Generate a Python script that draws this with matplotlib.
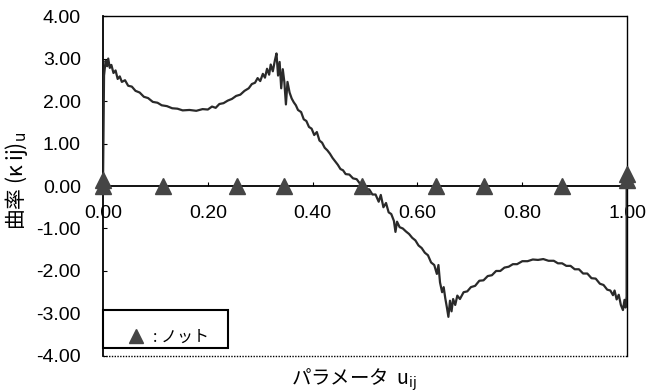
import matplotlib
matplotlib.use("Agg")
import matplotlib.pyplot as plt
from matplotlib.patches import Rectangle

plt.rcParams['font.family'] = ['Liberation Sans', 'Noto Sans CJK JP']
plt.rcParams['axes.unicode_minus'] = False

# curvature along the parameter (jagged as printed)
u_vals = [0.000, 0.002, 0.005, 0.008, 0.010, 0.013, 0.016, 0.020, 0.024, 0.028,
          0.032, 0.036, 0.042, 0.048, 0.055, 0.062, 0.070, 0.078, 0.086, 0.095,
          0.104, 0.112, 0.122, 0.132, 0.142, 0.152, 0.165, 0.178, 0.190, 0.200,
          0.208, 0.215, 0.222, 0.230, 0.238, 0.246, 0.254, 0.262, 0.270, 0.278,
          0.284, 0.290, 0.295, 0.300, 0.305, 0.309, 0.313, 0.317, 0.320, 0.324,
          0.328, 0.331, 0.334, 0.337, 0.340, 0.343, 0.346, 0.349, 0.352, 0.356,
          0.360, 0.364, 0.368, 0.372, 0.378, 0.383, 0.388, 0.393, 0.398, 0.403,
          0.408, 0.413, 0.418, 0.423, 0.428, 0.433, 0.438, 0.443, 0.448, 0.453,
          0.458, 0.463, 0.470, 0.477, 0.484, 0.490, 0.496, 0.502, 0.508, 0.514,
          0.520, 0.526, 0.530, 0.535, 0.540, 0.545, 0.550, 0.555, 0.558, 0.561,
          0.566, 0.572, 0.578, 0.584, 0.590, 0.596, 0.602, 0.608, 0.614, 0.620,
          0.626, 0.632, 0.637, 0.640, 0.643, 0.647, 0.650, 0.653, 0.656, 0.659,
          0.662, 0.665, 0.668, 0.672, 0.676, 0.681, 0.688, 0.695, 0.702, 0.710,
          0.718, 0.726, 0.734, 0.742, 0.750, 0.758, 0.766, 0.774, 0.782, 0.790,
          0.800, 0.810, 0.820, 0.830, 0.840, 0.850, 0.860, 0.868, 0.876, 0.884,
          0.892, 0.900, 0.908, 0.916, 0.924, 0.932, 0.940, 0.948, 0.955, 0.962,
          0.968, 0.973, 0.976, 0.980, 0.984, 0.988, 0.992, 0.995, 0.997, 0.999,
          0.999]
kappa = [0.00, 2.60, 2.95, 2.82, 3.00, 2.78, 2.85, 2.66, 2.72, 2.52,
         2.58, 2.45, 2.49, 2.36, 2.34, 2.24, 2.20, 2.10, 2.07, 1.98,
         1.96, 1.90, 1.88, 1.83, 1.82, 1.78, 1.79, 1.77, 1.81, 1.80,
         1.87, 1.84, 1.93, 1.95, 2.01, 2.05, 2.12, 2.15, 2.24, 2.30,
         2.40, 2.43, 2.54, 2.47, 2.64, 2.55, 2.76, 2.62, 2.86, 2.70,
         2.96, 3.12, 2.60, 2.92, 2.30, 2.75, 2.45, 1.92, 2.45, 2.20,
         2.06, 1.97, 1.90, 1.79, 1.74, 1.57, 1.53, 1.39, 1.35, 1.20,
         1.27, 1.07, 1.02, 0.90, 0.84, 0.76, 0.66, 0.58, 0.50, 0.40,
         0.37, 0.28, 0.27, 0.18, 0.16, 0.06, 0.06, -0.07, -0.08, -0.20,
         -0.20, -0.37, -0.21, -0.50, -0.40, -0.62, -0.66, -0.82, -1.08, -0.84,
         -0.97, -1.00, -1.07, -1.13, -1.22, -1.28, -1.40, -1.46, -1.57, -1.63,
         -1.80, -1.86, -2.07, -1.86, -2.27, -2.50, -2.38, -2.64, -2.85, -3.08,
         -2.70, -2.95, -2.66, -2.80, -2.58, -2.66, -2.50, -2.48, -2.38, -2.35,
         -2.23, -2.22, -2.12, -2.10, -2.00, -2.00, -1.92, -1.90, -1.84, -1.84,
         -1.77, -1.77, -1.73, -1.74, -1.72, -1.76, -1.76, -1.82, -1.82, -1.88,
         -1.88, -1.96, -1.96, -2.06, -2.06, -2.17, -2.18, -2.30, -2.33, -2.44,
         -2.46, -2.57, -2.46, -2.67, -2.56, -2.80, -2.92, -2.68, -2.86, -2.60,
         0.00]

# knot positions (end knots appear doubled in the print)
knot_u = [0.0, 0.0, 0.1145, 0.2557, 0.3454, 0.4943, 0.6355, 0.7271, 0.8760, 1.0, 1.0]
knot_k = [0.0, 0.15, 0.0, 0.0, 0.0, 0.0, 0.0, 0.0, 0.0, 0.15, 0.28]

x_ticks = [0.0, 0.2, 0.4, 0.6, 0.8, 1.0]
y_ticks = [-4, -3, -2, -1, 0, 1, 2, 3, 4]

jp = 'Noto Sans CJK JP'

fig = plt.figure(figsize=(6.56, 3.92), dpi=100)
ax = fig.add_axes([0.157, 0.092, 0.799, 0.867])

ax.plot(u_vals, kappa, color='#2a2a2a', lw=1.6, zorder=3)
knots, = ax.plot(knot_u, knot_k, '^', ms=12, color='#454545', mec='#454545',
                 clip_on=False, zorder=5, label=': ノット')

ax.set_xlim(0, 1.0)
ax.set_ylim(-4, 4)

# axes cross at zero, outer frame dotted
ax.spines['bottom'].set_position(('data', 0))
ax.spines['bottom'].set_linewidth(1.3)
ax.spines['left'].set_linewidth(1.3)
for side in ['top', 'right']:
    ax.spines[side].set_linestyle((0, (1, 1)))
    ax.spines[side].set_linewidth(1.0)
ax.plot([0, 1], [-4, -4], ls=(0, (1, 1)), color='black', lw=1.0, clip_on=False)

ax.set_xticks(x_ticks)
ax.set_xticklabels([f'{t:.2f}' for t in x_ticks])
ax.set_yticks(y_ticks)
ax.set_yticklabels([f'{t:.2f}' for t in y_ticks])
ax.tick_params(axis='x', direction='in', length=3, pad=14, labelsize=14)
ax.tick_params(axis='y', direction='in', length=3, pad=16, labelsize=14)

ax.set_ylabel('曲率 (κ ij)$_{\\mathrm{u}}$', family=jp, fontsize=15)
ax.yaxis.set_label_coords(-0.14, 0.515)
ax.set_xlabel('パラメータ  u$_{\\mathrm{ij}}$', family=jp, fontsize=14)
ax.xaxis.set_label_coords(0.48, -0.032)
ax.xaxis.label.set_va('top')

# legend box in the lower-left corner
ax.add_patch(Rectangle((0.0, 0.0235), 0.2386, 0.1118, transform=ax.transAxes,
                       fill=True, facecolor='white', edgecolor='black', lw=1.5,
                       zorder=6, clip_on=False))
leg = ax.legend(loc='center left', bbox_to_anchor=(0.038, 0.056), borderaxespad=0,
                frameon=False, prop={'family': jp, 'size': 11.5},
                handlelength=1.6, handletextpad=0.3, borderpad=0, numpoints=1)
leg.set_zorder(7)
leg.legend_handles[0].set_markersize(10)

fig.savefig('out.png', dpi=100)
